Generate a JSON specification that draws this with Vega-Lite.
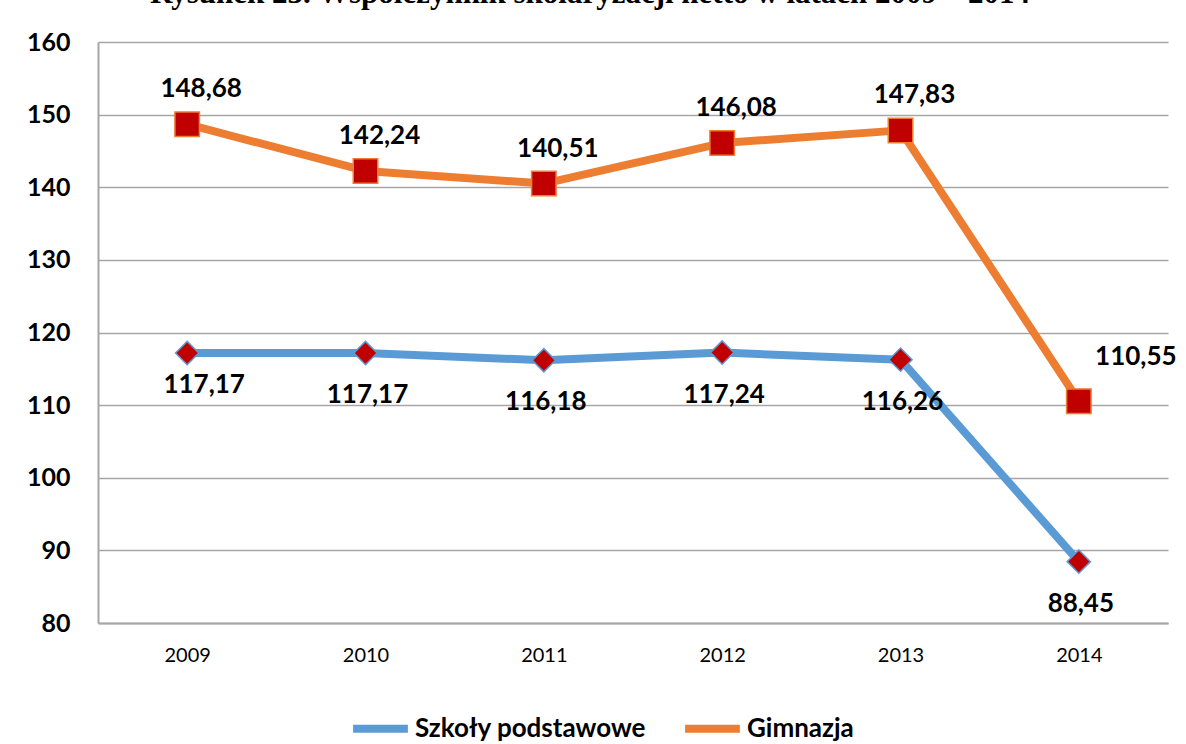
{
  "$schema": "https://vega.github.io/schema/vega-lite/v6.json",
  "width": 1070,
  "height": 581,
  "autosize": {"type": "none"},
  "padding": {"left": 98, "top": 42, "right": 18, "bottom": 121},
  "background": "#ffffff",
  "title": {
    "text": "Rysunek 23. Współczynnik skolaryzacji netto w latach 2009 – 2014",
    "font": "Liberation Serif",
    "fontSize": 31,
    "fontWeight": "bold",
    "color": "#000000",
    "anchor": "middle",
    "baseline": "alphabetic",
    "offset": 18,
    "dy": 22,
    "dx": -43
  },
  "data": {
    "values": [
      {"rok": "2009", "seria": "Szkoły podstawowe", "wartosc": 117.17, "etykieta": "117,17"},
      {"rok": "2010", "seria": "Szkoły podstawowe", "wartosc": 117.17, "etykieta": "117,17"},
      {"rok": "2011", "seria": "Szkoły podstawowe", "wartosc": 116.18, "etykieta": "116,18"},
      {"rok": "2012", "seria": "Szkoły podstawowe", "wartosc": 117.24, "etykieta": "117,24"},
      {"rok": "2013", "seria": "Szkoły podstawowe", "wartosc": 116.26, "etykieta": "116,26"},
      {"rok": "2014", "seria": "Szkoły podstawowe", "wartosc": 88.45, "etykieta": "88,45"},
      {"rok": "2009", "seria": "Gimnazja", "wartosc": 148.68, "etykieta": "148,68"},
      {"rok": "2010", "seria": "Gimnazja", "wartosc": 142.24, "etykieta": "142,24"},
      {"rok": "2011", "seria": "Gimnazja", "wartosc": 140.51, "etykieta": "140,51"},
      {"rok": "2012", "seria": "Gimnazja", "wartosc": 146.08, "etykieta": "146,08"},
      {"rok": "2013", "seria": "Gimnazja", "wartosc": 147.83, "etykieta": "147,83"},
      {"rok": "2014", "seria": "Gimnazja", "wartosc": 110.55, "etykieta": "110,55"}
    ]
  },
  "encoding": {
    "x": {
      "field": "rok",
      "type": "ordinal",
      "scale": {"type": "point", "padding": 0.5},
      "axis": {
        "title": null,
        "labelAngle": 0,
        "labelFont": "Lato",
        "labelFontSize": 20,
        "labelColor": "#000000",
        "labelPadding": 22,
        "ticks": false,
        "domainColor": "#A6A6A6",
        "domainWidth": 2,
        "grid": false
      }
    },
    "y": {
      "field": "wartosc",
      "type": "quantitative",
      "scale": {"domain": [80, 160], "nice": false, "zero": false},
      "axis": {
        "title": null,
        "values": [80, 90, 100, 110, 120, 130, 140, 150, 160],
        "labelFont": "Lato",
        "labelFontSize": 25,
        "labelFontWeight": "bold",
        "labelColor": "#000000",
        "labelPadding": 28,
        "ticks": false,
        "domainColor": "#A6A6A6",
        "domainWidth": 2,
        "gridColor": "#A6A6A6",
        "gridWidth": 1.5
      }
    }
  },
  "layer": [
    {
      "mark": {"type": "line", "strokeWidth": 8, "strokeCap": "round", "strokeJoin": "round"},
      "encoding": {
        "color": {
          "field": "seria",
          "type": "nominal",
          "scale": {"domain": ["Szkoły podstawowe", "Gimnazja"], "range": ["#5B9BD5", "#ED7D31"]},
          "legend": {
            "title": null,
            "orient": "none",
            "legendX": 251,
            "legendY": 655,
            "direction": "horizontal",
            "symbolType": "stroke",
            "symbolSize": 3000,
            "symbolStrokeWidth": 8,
            "labelFont": "Lato",
            "labelFontSize": 26,
            "labelFontWeight": "bold",
            "labelColor": "#000000",
            "labelLimit": 500,
            "labelOffset": 3,
            "columnPadding": 22
          }
        }
      }
    },
    {
      "transform": [{"filter": "datum.seria === 'Gimnazja'"}],
      "mark": {"type": "point", "shape": "square", "size": 600, "filled": true, "fill": "#C00000", "stroke": "#ED7D31", "strokeWidth": 1.5, "opacity": 1}
    },
    {
      "transform": [{"filter": "datum.seria === 'Szkoły podstawowe'"}],
      "mark": {"type": "point", "shape": "diamond", "size": 540, "filled": true, "fill": "#C00000", "stroke": "#5B9BD5", "strokeWidth": 1.5, "opacity": 1}
    },
    {
      "transform": [{"filter": "datum.seria === 'Gimnazja' && datum.rok !== '2014'"}],
      "mark": {"type": "text", "font": "Lato", "fontSize": 26, "fontWeight": "bold", "color": "#000000", "dy": -35, "dx": 14},
      "encoding": {"text": {"field": "etykieta"}}
    },
    {
      "transform": [{"filter": "datum.seria === 'Gimnazja' && datum.rok === '2014'"}],
      "mark": {"type": "text", "font": "Lato", "fontSize": 26, "fontWeight": "bold", "color": "#000000", "dy": -44, "dx": 57},
      "encoding": {"text": {"field": "etykieta"}}
    },
    {
      "transform": [{"filter": "datum.seria === 'Szkoły podstawowe' && datum.rok !== '2009'"}],
      "mark": {"type": "text", "font": "Lato", "fontSize": 26, "fontWeight": "bold", "color": "#000000", "dy": 42, "dx": 2},
      "encoding": {"text": {"field": "etykieta"}}
    },
    {
      "transform": [{"filter": "datum.seria === 'Szkoły podstawowe' && datum.rok === '2009'"}],
      "mark": {"type": "text", "font": "Lato", "fontSize": 26, "fontWeight": "bold", "color": "#000000", "dy": 32, "dx": 17},
      "encoding": {"text": {"field": "etykieta"}}
    }
  ],
  "config": {"view": {"stroke": null}}
}
